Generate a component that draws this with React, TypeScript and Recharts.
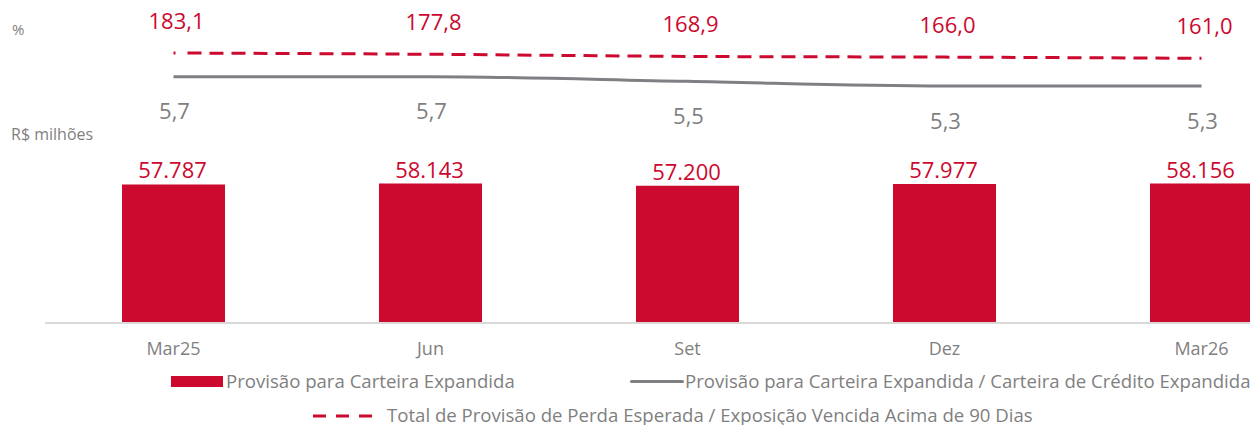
import React from 'react';
import { ComposedChart, Bar, Line, XAxis, YAxis, LabelList } from 'recharts';

const categories = ['Mar25', 'Jun', 'Set', 'Dez', 'Mar26'];
const provisaoCarteira = [57787, 58143, 57200, 57977, 58156];
const provisaoSobreCarteira = [5.7, 5.7, 5.5, 5.3, 5.3];
const provisaoSobreVencida = [183.1, 177.8, 168.9, 166.0, 161.0];

const legendBar = 'Provisão para Carteira Expandida';
const legendGray = 'Provisão para Carteira Expandida / Carteira de Crédito Expandida';
const legendRed = 'Total de Provisão de Perda Esperada / Exposição Vencida Acima de 90 Dias';
const unitPct = '%';
const unitMoney = 'R$ milhões';

const RED = '#CC092F';
const GRAY_TEXT = '#7F7F7F';
const GRAY_LINE = '#808084';
const FONT = '"Open Sans", sans-serif';

const data = categories.map((cat, i) => ({
  cat,
  bar: provisaoCarteira[i],
  gray: provisaoSobreCarteira[i],
  red: provisaoSobreVencida[i],
}));

const fmtThousands = (v: number) =>
  String(Math.round(v)).replace(/\B(?=(\d{3})+(?!\d))/g, '.');
const fmtDec = (v: number) => v.toFixed(1).replace('.', ',');

const getXY = (props: any) => {
  const vb = props.viewBox || {};
  const x = props.x ?? vb.x ?? 0;
  const y = props.y ?? vb.y ?? 0;
  const width = props.width ?? vb.width ?? 0;
  return { x: Number(x), y: Number(y), width: Number(width) };
};

const BarLabel = (props: any) => {
  const { x, y, width } = getXY(props);
  return (
    <text x={x + width / 2 - 1} y={y - 6} textAnchor="middle" fill={RED} fontSize={22} fontFamily={FONT}>
      {fmtThousands(props.value)}
    </text>
  );
};

const RedLabel = (props: any) => {
  const { x, y } = getXY(props);
  return (
    <text x={x + 3} y={y - 24} textAnchor="middle" fill={RED} fontSize={22} fontFamily={FONT}>
      {fmtDec(props.value)}
    </text>
  );
};

const GrayLabel = (props: any) => {
  const { x, y } = getXY(props);
  return (
    <text x={x + 1} y={y + 42.5} textAnchor="middle" fill={GRAY_TEXT} fontSize={22} fontFamily={FONT}>
      {fmtDec(props.value)}
    </text>
  );
};

const dashPattern = '2 12 ' + Array(70).fill('14 8').join(' ');

const textStyle: React.CSSProperties = {
  position: 'absolute',
  fontFamily: FONT,
  color: GRAY_TEXT,
  whiteSpace: 'nowrap',
};

export default function App() {
  return (
    <div
      style={{
        position: 'relative',
        width: 1258,
        height: 425,
        margin: '-8px 0 0 -8px',
        overflow: 'hidden',
        fontFamily: FONT,
      }}
    >
      <div style={{ position: 'absolute', left: 0, top: 0 }}>
        <ComposedChart width={1330} height={363} data={data} margin={{ top: 10, right: 0, bottom: 0, left: 45 }}>
          <XAxis
            dataKey="cat"
            axisLine={{ stroke: '#D9D9D9', strokeWidth: 2 }}
            tickLine={false}
            tickSize={0}
            tickMargin={19}
            height={40}
            tick={{ fill: GRAY_TEXT, fontSize: 18, fontFamily: FONT }}
            interval={0}
          />
          <YAxis yAxisId="bar" hide domain={[0, 130500]} />
          <YAxis yAxisId="red" hide domain={[-941.9, 362.3]} allowDataOverflow />
          <YAxis yAxisId="gray" hide domain={[-4.894, 8.569]} allowDataOverflow />
          <Bar yAxisId="bar" dataKey="bar" fill={RED} barSize={103} isAnimationActive={false}>
            <LabelList dataKey="bar" content={BarLabel} />
          </Bar>
          <Line
            yAxisId="gray"
            type="monotone"
            dataKey="gray"
            stroke={GRAY_LINE}
            strokeWidth={3}
            dot={false}
            activeDot={false}
            isAnimationActive={false}
          >
            <LabelList dataKey="gray" content={GrayLabel} />
          </Line>
          <Line
            yAxisId="red"
            type="monotone"
            dataKey="red"
            stroke={RED}
            strokeWidth={3}
            strokeDasharray={dashPattern}
            dot={false}
            activeDot={false}
            isAnimationActive={false}
          >
            <LabelList dataKey="red" content={RedLabel} />
          </Line>
        </ComposedChart>
      </div>

      <div style={{ ...textStyle, left: 12, top: 19, fontSize: 15, lineHeight: '20px' }}>{unitPct}</div>
      <div style={{ ...textStyle, left: 11, top: 123.5, fontSize: 16, lineHeight: '20px' }}>{unitMoney}</div>

      <div style={{ position: 'absolute', left: 171, top: 376, width: 52, height: 11, background: RED }} />
      <div style={{ ...textStyle, left: 226, top: 372.4, fontSize: 18.6, lineHeight: '18px' }}>{legendBar}</div>

      <div style={{ position: 'absolute', left: 630, top: 379.5, width: 54, height: 3, background: GRAY_LINE, borderRadius: 1.5 }} />
      <div style={{ ...textStyle, left: 685, top: 372.4, fontSize: 18.6, lineHeight: '18px' }}>{legendGray}</div>

      <svg style={{ position: 'absolute', left: 308, top: 410 }} width={80} height={12}>
        <line x1={5} y1={6} x2={66} y2={6} stroke={RED} strokeWidth={3} strokeDasharray="13 10" />
      </svg>
      <div style={{ ...textStyle, left: 387, top: 405.5, fontSize: 18.6, lineHeight: '18px' }}>{legendRed}</div>
    </div>
  );
}
